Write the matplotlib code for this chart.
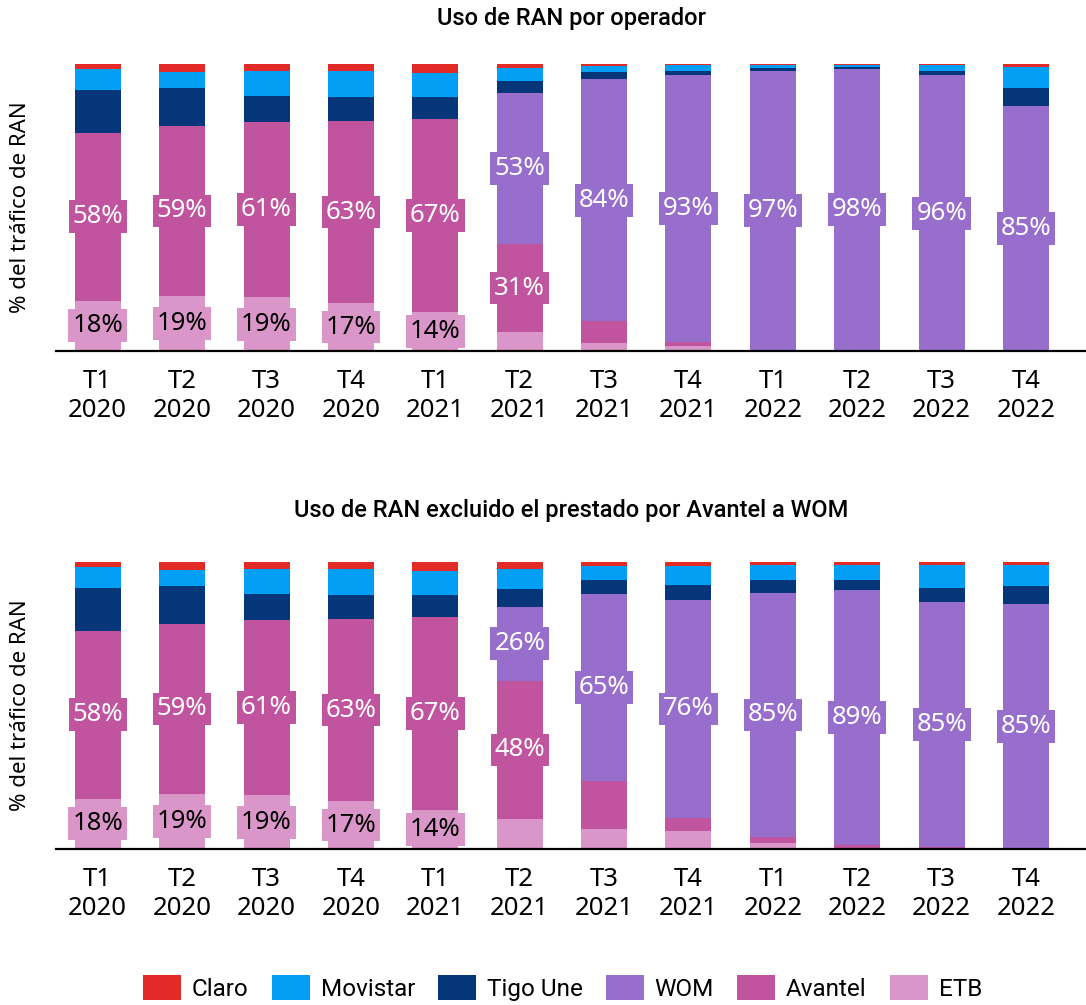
"""
Uso de RAN por operador: barras apiladas al 100 % por trimestre.
Genera out.png.
"""
import numpy as np
import matplotlib
matplotlib.use('Agg')
import matplotlib.pyplot as plt
from matplotlib import font_manager

# Datos (porcentaje del tráfico de RAN)
periodos = ['T1\n2020', 'T2\n2020', 'T3\n2020', 'T4\n2020',
            'T1\n2021', 'T2\n2021', 'T3\n2021', 'T4\n2021',
            'T1\n2022', 'T2\n2022', 'T3\n2022', 'T4\n2022']
operadores = ['Claro', 'Movistar', 'Tigo Une', 'WOM', 'Avantel', 'ETB']

# Panel superior: uso de RAN por operador
claro_1 = [2.0, 2.7, 2.7, 2.6, 3.1, 1.5, 0.6, 0.5, 0.3, 0.2, 0.3, 0.9]
movistar_1 = [7.0, 5.8, 8.4, 8.8, 8.2, 4.4, 2.2, 2.0, 1.0, 1.0, 2.3, 7.3]
tigo_1 = [15.1, 13.2, 9.3, 8.5, 7.8, 4.2, 2.4, 1.6, 1.0, 0.5, 1.4, 6.5]
wom_1 = [0, 0, 0, 0, 0, 52.6, 84.3, 92.8, 97.4, 98.2, 96.0, 85.3]
avantel_1 = [58.4, 59.0, 61.0, 63.4, 67.2, 30.9, 7.5, 1.3, 0.2, 0.05, 0, 0]
etb_1 = [17.6, 19.3, 18.7, 16.7, 13.6, 6.5, 2.9, 1.9, 0.1, 0.05, 0, 0]

# Panel inferior: excluido el RAN prestado por Avantel a WOM
claro_2 = [2.0, 2.7, 2.7, 2.6, 3.1, 2.4, 1.4, 1.4, 1.2, 0.9, 1.0, 1.0]
movistar_2 = [7.0, 5.8, 8.4, 8.8, 8.2, 7.0, 4.9, 6.6, 5.1, 5.2, 7.9, 7.2]
tigo_2 = [15.1, 13.2, 9.3, 8.5, 7.8, 6.3, 4.9, 5.2, 4.5, 3.6, 5.0, 6.3]
wom_2 = [0, 0, 0, 0, 0, 25.8, 65.2, 75.8, 85.0, 88.9, 85.4, 85.4]
avantel_2 = [58.4, 59.0, 61.0, 63.4, 67.2, 48.1, 16.7, 4.6, 2.1, 1.2, 0.5, 0.1]
etb_2 = [17.6, 19.3, 18.7, 16.7, 13.6, 10.5, 7.0, 6.3, 2.1, 0.2, 0.1, 0]

colores = {'Claro': '#e22a27', 'Movistar': '#039ff4', 'Tigo Une': '#06367a',
           'WOM': '#986ecd', 'Avantel': '#c0549f', 'ETB': '#db96c9'}
# etiquetas sólo en los segmentos grandes
umbral_etiqueta = {'WOM': 20, 'Avantel': 20, 'ETB': 13}
color_texto = {'WOM': 'white', 'Avantel': 'white', 'ETB': 'black'}


def primera_fuente(nombres):
    disponibles = {f.name for f in font_manager.fontManager.ttflist}
    for n in nombres:
        if n in disponibles:
            return n
    return 'DejaVu Sans'


FUENTE = primera_fuente(['Noto Sans', 'Open Sans', 'DejaVu Sans'])
FUENTE_TITULO = primera_fuente(['Roboto', 'Liberation Sans', 'DejaVu Sans'])
plt.rcParams['font.family'] = [FUENTE, 'DejaVu Sans']

x = np.arange(len(periodos))
ancho = 0.545


def dibujar_panel(ax, series, titulo, y_titulo):
    base = np.zeros(len(periodos))
    barras = {}
    for nombre in operadores[::-1]:
        vals = np.array(series[nombre], dtype=float)
        bc = ax.bar(x, vals, ancho, bottom=base, color=colores[nombre],
                    label=nombre, linewidth=0)
        barras[nombre] = bc
        if nombre in umbral_etiqueta:
            textos = [f'{v:.0f}%' if v >= umbral_etiqueta[nombre] else ''
                      for v in vals]
            ax.bar_label(bc, labels=textos, label_type='center', fontsize=18.5,
                         color=color_texto[nombre],
                         bbox=dict(boxstyle='square,pad=0.15',
                                   facecolor=colores[nombre], edgecolor='none'))
        base += vals

    ax.set_xlim(-0.494, 11.71)
    ax.set_ylim(0, 100)
    ax.set_xticks(x, periodos)
    ax.tick_params(axis='x', length=0, pad=13, labelsize=18.5)
    ax.set_yticks([])
    for lado in ['top', 'right', 'left']:
        ax.spines[lado].set_visible(False)
    ax.spines['bottom'].set_linewidth(1.6)
    ax.spines['bottom'].set_color('black')
    ax.set_ylabel('% del tráfico de RAN', fontsize=16)
    ax.yaxis.set_label_coords(-0.024, 0.5)
    ax.figure.text(0.526, y_titulo, titulo, ha='center', va='center',
                   fontsize=17, family=FUENTE_TITULO, fontweight='medium')
    return barras


fig = plt.figure(figsize=(10.86, 10.05), dpi=100)
ax1 = fig.add_axes([0.0516, 0.6507, 0.9484, 0.2856])
ax2 = fig.add_axes([0.0516, 0.1552, 0.9484, 0.2856])

serie_1 = {'Claro': claro_1, 'Movistar': movistar_1, 'Tigo Une': tigo_1,
           'WOM': wom_1, 'Avantel': avantel_1, 'ETB': etb_1}
serie_2 = {'Claro': claro_2, 'Movistar': movistar_2, 'Tigo Une': tigo_2,
           'WOM': wom_2, 'Avantel': avantel_2, 'ETB': etb_2}

barras = dibujar_panel(ax1, serie_1, 'Uso de RAN por operador', 0.982)
dibujar_panel(ax2, serie_2, 'Uso de RAN excluido el prestado por Avantel a WOM', 0.4925)

fig.legend([barras[n] for n in operadores], operadores, loc='center',
           bbox_to_anchor=(0.518, 0.017), ncol=6, frameon=False,
           prop={'family': FUENTE_TITULO, 'size': 17.5},
           handlelength=1.56, handleheight=1.19, handletextpad=0.45,
           columnspacing=0.95)

fig.savefig('out.png', dpi=100)
